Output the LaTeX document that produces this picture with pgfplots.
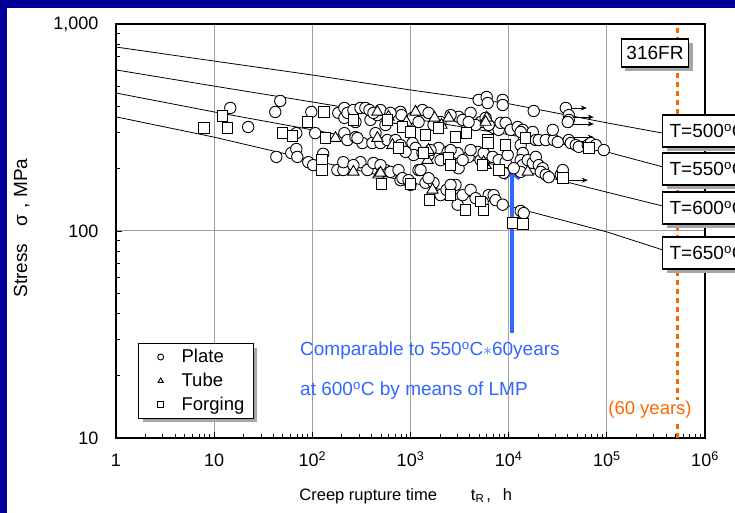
\documentclass[border=0pt]{standalone}
\usepackage{pgfplots}
\pgfplotsset{compat=1.18}
\usepackage{fontspec}
\setmainfont{Liberation Sans}
\usetikzlibrary{arrows.meta,shadows}
\definecolor{frameblue}{RGB}{0,0,153}
\definecolor{orng}{RGB}{255,102,0}
\definecolor{bluearrow}{RGB}{51,102,255}
\definecolor{gridgray}{RGB}{160,160,160}
\begin{document}
\begin{tikzpicture}
\path[use as bounding box, clip] (0pt,0pt) rectangle (735pt,513pt);
\fill[white] (0pt,0pt) rectangle (735pt,513pt);
\fill[frameblue] (0pt,0pt) rectangle (7pt,513pt);
\fill[frameblue] (0pt,505pt) rectangle (735pt,513pt);
\begin{axis}[
  at={(116pt,75pt)}, anchor=south west,
  scale only axis, width=589pt, height=414pt,
  xmode=log, ymode=log,
  xmin=1, xmax=1e6, ymin=10, ymax=1000,
  xtick={1,10,100,1000,10000,100000,1000000},
  xticklabels={1,10,10\textsuperscript{2},10\textsuperscript{3},10\textsuperscript{4},10\textsuperscript{5},10\textsuperscript{6}},
  ytick={10,100,1000},
  yticklabels={10,100,{1,000}},
  minor xtick={2,3,4,5,6,7,8,9,20,30,40,50,60,70,80,90,200,300,400,500,600,700,800,900,2000,3000,4000,5000,6000,7000,8000,9000,20000,30000,40000,50000,60000,70000,80000,90000,200000,300000,400000,500000,600000,700000,800000,900000},
  minor ytick={20,30,40,50,60,70,80,90,200,300,400,500,600,700,800,900},
  tick pos=left,
  tick align=inside,
  major tick length=6pt, minor tick length=4pt,
  every tick/.style={black, line width=0.8pt},
  grid=major,
  major grid style={gridgray, line width=1pt},
  axis line style={black, line width=1.3pt},
  tick label style={font=\fontsize{18}{20}\selectfont},
  xticklabel style={anchor=base, yshift=-29pt},
  yticklabel style={xshift=-14pt},
  xlabel={Creep rupture time\hspace{34pt}t\textsubscript{R}\hspace{2pt},\hspace{12pt}h},
  xlabel style={font=\fontsize{16.5}{20}\selectfont, at={(axis description cs:0.492,-0.14)}, anchor=center},
  ylabel={Stress\hspace{17pt}σ\hspace{6pt},\hspace{6pt}MPa},
  ylabel style={font=\fontsize{19}{21}\selectfont, at={(axis description cs:-0.16,0.507)}, anchor=center},
  legend style={at={(axis description cs:0.0374,0.2295)}, anchor=north west, draw=black, line width=1.2pt, fill=white, font=\fontsize{18.5}{21}\selectfont, drop shadow={shadow xshift=4pt, shadow yshift=-4pt, fill=gray!70, opacity=1}, inner xsep=7pt, inner ysep=4pt, row sep=5pt, /tikz/every odd column/.append style={column sep=1pt}},
  legend cell align=left,
  legend image code/.code={\node[draw=none, fill=none, inner sep=0pt, minimum width=33pt, minimum height=2pt] at (16.5pt,0pt) {}; \path[#1, draw=none, fill=none] plot[only marks, mark size=3pt, mark options={draw=black, fill=white, line width=0.9pt}] coordinates {(32pt,0pt)};},
]
% orange 60-year line
\draw[orng, line width=3.3pt, dash pattern=on 5pt off 4pt] (axis cs:525600,10) -- (axis cs:525600,1000);
% master curves
\addplot[black, line width=0.8pt, no markers, forget plot] coordinates {(1,774)(10,662)(100,567)(1000,480)(10000,412)(100000,333)(372000,297)};
\addplot[black, line width=0.8pt, no markers, forget plot] coordinates {(1,600)(10,501)(100,420)(1000,350)(10000,292)(100000,241)(372000,204)};
\addplot[black, line width=0.8pt, no markers, forget plot] coordinates {(1,464)(10,376)(100,308)(1000,252)(10000,203)(100000,154)(372000,132)};
\addplot[black, line width=0.8pt, no markers, forget plot] coordinates {(1,356)(10,284)(100,220)(1000,172)(10000,132)(100000,99)(372000,81)};
% Plate
\addplot[only marks, mark=*, mark size=5.7pt, draw=black, fill=white, line width=0.9pt] table[row sep=\\] {
x y\\
14.6 393\\ 22.2 318\\ 47.1 425\\ 41.9 376\\ 97.7 376\\ 184 372\\ 212 393\\ 212 352\\ 228 372\\ 262 384\\
309 393\\ 347 393\\ 391 344\\ 460 363\\ 494 384\\ 382 384\\ 419 372\\ 703 352\\ 791 376\\ 809 363\\
1325 384\\ 1527 372\\ 3090 356\\ 5176 336\\ 5821 352\\ 7031 315\\ 7907 308\\ 8279 333\\ 9311 333\\ 10470 308\\
12360 318\\ 13900 308\\ 14220 284\\ 17580 301\\ 18880 275\\ 20230 275\\ 23880 275\\ 28770 275\\ 28120 308\\ 31620 269\\
40930 275\\ 42950 266\\ 48310 260\\ 51760 255\\ 63970 260\\ 68710 266\\ 77270 260\\ 93110 246\\
625 372\\ 1048 352\\ 2023 336\\ 2560 363\\ 3396 344\\ 4093 372\\ 4603 325\\ 6252 325\\ 3908 336\\ 1717 325\\ 1208 336\\ 556 325\\ 275 336\\
4943 430\\ 5970 444\\ 6109 415\\ 8690 430\\ 8690 406\\ 17990 380\\ 38190 393\\ 40930 363\\ 40930 344\\ 40000 336\\
68.7 297\\ 107 297\\ 212 297\\ 228 275\\ 275 284\\ 324 266\\ 409 266\\ 440 297\\ 494 266\\ 582 275\\
288 281\\ 703 275\\ 1048 266\\ 1125 252\\ 1074 233\\ 1325 238\\ 1527 233\\ 1932 252\\ 2388 241\\ 3020 238\\
3090 201\\ 3908 228\\ 4831 241\\ 5176 220\\ 6109 228\\ 5559 238\\ 6870 228\\ 7907 220\\ 9311 215\\ 9772 233\\
13250 301\\ 13250 260\\ 13900 238\\ 13250 220\\ 13900 208\\ 13250 193\\ 15630 220\\ 17580 213\\ 18880 228\\ 20230 208\\
22230 201\\ 21230 193\\ 23880 187\\ 25590 182\\ 33960 187\\ 35560 197\\ 8892 191\\ 11250 201\\ 2023 220\\ 2560 246\\
3396 220\\ 4093 246\\ 1600 246\\ 791 260\\ 889 241\\
43 228\\ 61 238\\ 68.7 249\\ 70.3 228\\ 91 215\\ 102 208\\ 129 236\\ 180 197\\ 207 197\\ 207 215\\
309 215\\ 364 197\\ 419 213\\ 556 197\\ 625 193\\ 755 197\\ 791 176\\ 828 180\\ 955 176\\ 1208 197\\
1265 197\\ 1422 171\\ 1717 171\\ 2023 149\\ 2328 158\\ 2877 167\\ 3020 134\\ 3396 149\\ 4093 158\\ 4603 144\\
6252 149\\ 5431 138\\ 7031 149\\ 7362 141\\ 8690 134\\ 13250 125\\ 14220 122\\ 262 208\\ 494 208\\ 1000 167\\
1527 180\\ 2560 167\\
};
\addlegendentry{Plate}
% Tube
\addplot[only marks, mark=triangle*, mark size=6.5pt, draw=black, fill=white, line width=0.9pt] table[row sep=\\] {
x y\\
172 281\\ 460 376\\ 655 260\\ 910 336\\ 1125 376\\ 1490 220\\ 1758 352\\ 2443 352\\ 5821 208\\ 5970 352\\
5559 215\\ 5821 336\\ 15630 193\\ 262 193\\ 471 187\\ 1676 158\\ 2070 325\\ 1527 246\\ 597 356\\ 460 281\\ 494 191\\
};
\addlegendentry{Tube}
% Forging
\addplot[only marks, mark=square*, mark size=5.3pt, draw=black, fill=white, line width=0.9pt] table[row sep=\\] {
x y\\
7.9 315\\ 13.6 315\\ 12.1 359\\ 49.4 297\\ 62.5 288\\ 88.9 336\\ 132 376\\ 136 281\\ 126 220\\ 126 197\\
262 344\\ 582 344\\ 755 252\\ 828 318\\ 1000 301\\ 1932 315\\ 2443 225\\ 2560 208\\ 3724 297\\ 6109 275\\
6109 266\\ 9311 260\\ 14890 281\\ 65460 252\\ 506 169\\ 1000 169\\ 1563 141\\ 2560 149\\ 3639 126\\ 5559 126\\
5176 139\\ 7907 197\\ 35560 180\\ 10990 109\\ 13900 108\\ 1422 291\\ 2877 284\\ 1358 238\\ 5431 208\\
};
\addlegendentry{Forging}
% run-out arrows
\addplot[black, line width=0.8pt, -{Stealth[length=6pt,width=5pt]}, forget plot] coordinates {(42950,393)(62520,393)};
\addplot[black, line width=0.8pt, -{Stealth[length=6pt,width=5pt]}, forget plot] coordinates {(42950,355)(73620,355)};
\addplot[black, line width=0.8pt, -{Stealth[length=6pt,width=5pt]}, forget plot] coordinates {(42950,329)(73620,329)};
\addplot[black, line width=0.8pt, -{Stealth[length=6pt,width=5pt]}, forget plot] coordinates {(42950,284)(73620,284)};
\addplot[black, line width=0.8pt, -{Stealth[length=6pt,width=5pt]}, forget plot] coordinates {(42950,271)(73620,271)};
\addplot[black, line width=0.8pt, -{Stealth[length=6pt,width=5pt]}, forget plot] coordinates {(42950,262)(73620,262)};
\addplot[black, line width=0.8pt, -{Stealth[length=6pt,width=5pt]}, forget plot] coordinates {(36390,176)(63970,176)};
% blue arrow
\draw[bluearrow, line width=4pt, -{Straight Barb[length=6pt,width=16pt]}] (axis cs:10740,32.1) -- (axis cs:10740,197);
\end{axis}
% temperature labels
\tikzset{tbox/.style={draw=black, line width=1.2pt, fill=white, drop shadow={shadow xshift=4pt, shadow yshift=-4pt, fill=gray!70, opacity=1}, anchor=west, minimum height=32pt, inner xsep=7pt, font=\fontsize{19}{22}\selectfont}}
\node[tbox] at (662pt,382pt) {T=500\textsuperscript{o}C};
\node[tbox] at (662pt,344pt) {T=550\textsuperscript{o}C};
\node[tbox] at (662pt,305pt) {T=600\textsuperscript{o}C};
\node[tbox] at (662pt,260pt) {T=650\textsuperscript{o}C};
\node[draw=black, line width=1.2pt, fill=white, drop shadow={shadow xshift=4pt, shadow yshift=-4pt, fill=gray!70, opacity=1}, minimum height=28pt, inner xsep=5pt, font=\fontsize{19}{22}\selectfont] at (655pt,460pt) {316FR};
\node[anchor=west, text=bluearrow, font=\fontsize{19}{22}\selectfont, inner sep=0pt] at (300pt,162pt) {Comparable to 550\textsuperscript{o}C$\ast$60years};
\node[anchor=west, text=bluearrow, font=\fontsize{19}{22}\selectfont, inner sep=0pt] at (300pt,122pt) {at 600\textsuperscript{o}C by means of LMP};
\node[fill=white, text=orng, inner sep=1pt, font=\fontsize{18.5}{22}\selectfont] at (650pt,103pt) {(60 years)};
\end{tikzpicture}
\end{document}
